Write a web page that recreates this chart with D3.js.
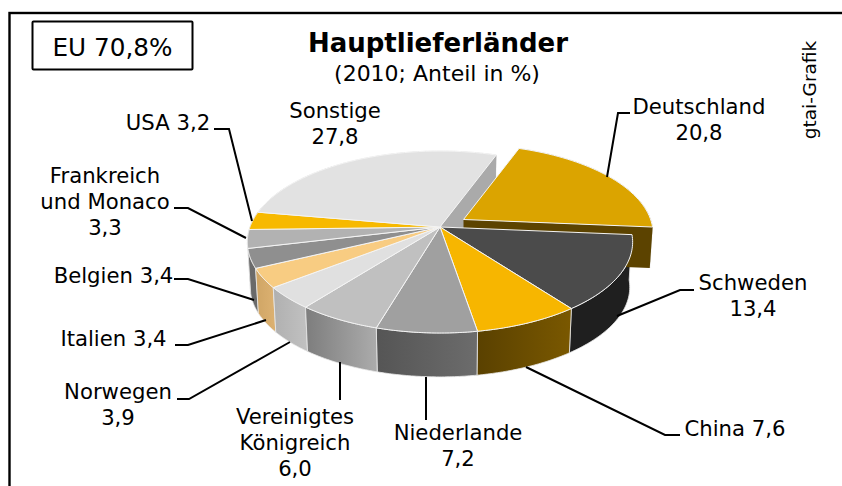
<!DOCTYPE html>
<html><head><meta charset="utf-8">
<script src="https://cdnjs.cloudflare.com/ajax/libs/d3/7.8.5/d3.min.js"></script>
<style>html,body{margin:0;padding:0;background:#fff;overflow:hidden}svg{display:block}text{font-family:"DejaVu Sans",sans-serif;fill:#000}</style>
</head><body><svg id="c" width="842" height="486"></svg>
<script>
const categories=["Deutschland","Schweden","China","Niederlande","Vereinigtes Königreich","Norwegen","Italien","Belgien","Frankreich und Monaco","USA","Sonstige"];
const values=[20.8,13.4,7.6,7.2,6.0,3.9,3.4,3.4,3.3,3.2,27.8];
const topColors=["#dba400","#4b4b4b","#f7b600","#a0a0a0","#c0c0c0","#e0e0e0","#f8cc82","#8f8f8f","#b2b2b2","#f7b900","#e2e2e2"];
const sideFrom=["#5c4300","#1f1f1f","#7a5800","#6c6c6c","#ababab","#c0c0c0","#dbb070","#6a6a6a","#7a7a7a","#7a5800","#aaaaaa"];
const sideTo=["#5c4300","#1f1f1f","#5a4100","#555555","#7d7d7d","#b0b0b0","#cfa565","#6a6a6a","#7a7a7a","#7a5800","#aaaaaa"];
const labelLines=[["Deutschland","20,8"],["Schweden","13,4"],["China 7,6"],["Niederlande","7,2"],["Vereinigtes","Königreich","6,0"],["Norwegen","3,9"],["Italien 3,4"],["Belgien 3,4"],["Frankreich","und Monaco","3,3"],["USA 3,2"],["Sonstige","27,8"]];
const labelPos=[[699,106],[753,282],[735,428],[458,432],[295,416],[118,391],[113.5,338],[113.5,275],[105,175],[168,122],[335,110]];
const leaders=[[[607,177],[618,113],[630,113]],[[617,316],[680,290],[694,290]],[[526,367],[665,435],[680,435]],[[426,377],[426,420]],[[340,362],[340,400]],[[290,342],[189,399],[177,399]],[[266,320],[188,345],[175,345]],[[254,300],[188,279],[174,279]],[[246,238],[188,208],[174,208]],[[252,221],[229,129],[214,129]]];
const title="Hauptlieferländer",subtitle="(2010; Anteil in %)",badge="EU 70,8%",credit="gtai-Grafik";

const svg=d3.select("#c");
// frame (runs past the right and bottom edges of the picture)
svg.append("rect").attr("x",9.5).attr("y",13).attr("width",900).attr("height",600).attr("fill","#fff").attr("stroke","#000").attr("stroke-width",2.4);
svg.append("rect").attr("x",32.5).attr("y",21.5).attr("width",160).attr("height",48).attr("rx",1).attr("fill","#fff").attr("stroke","#000").attr("stroke-width",2);
svg.append("text").attr("x",112.5).attr("y",56).attr("text-anchor","middle").attr("font-size",24.7).text(badge);
svg.append("text").attr("x",438).attr("y",52).attr("text-anchor","middle").attr("font-size",26).attr("font-weight","bold").text(title);
svg.append("text").attr("x",437).attr("y",81).attr("text-anchor","middle").attr("font-size",22).text(subtitle);
svg.append("text").attr("transform","translate(815.5,90) rotate(-90)").attr("text-anchor","middle").attr("font-size",18.5).text(credit);

// perspective pie
const cx=440,cy=227,R=190,H=88.5,P=0.165,depth=45.5,explodedDepth=41,bottomScale=0.985;
const startDeg=20,explodedR=0.985;
const rad=d3.pie().sort(null).value(d=>d).startAngle(startDeg*Math.PI/180).endAngle((startDeg+360)*Math.PI/180)(values);
function proj(a,r,off,drop){ // a clockwise from top, r radius fraction, drop = wall height (0 for the top face)
  const u=r*Math.sin(a),v=-r*Math.cos(a),k=1/(1-P*v),s=drop?bottomScale:1;
  return [cx+off[0]+R*u*k*s, cy+off[1]+H*v*k*s+drop];
}
const line=d3.line().curve(d3.curveLinear);
const explode=[23.5,-7.5];
const offs=values.map((_,i)=>i===0?explode:[0,0]);
const radii=values.map((_,i)=>i===0?explodedR:1);
const drops=values.map((_,i)=>i===0?explodedDepth:depth);
const arcPts=(a0,a1,off,drop,r)=>d3.range(0,41).map(j=>proj(a0+(a1-a0)*j/40,r,off,drop));

const defs=svg.append("defs");
rad.forEach((d,i)=>{
  const xs=arcPts(d.startAngle,d.endAngle,offs[i],0,radii[i]).map(p=>p[0]);
  const g=defs.append("linearGradient").attr("id","g"+i).attr("gradientUnits","userSpaceOnUse")
   .attr("x1",d3.max(xs)).attr("x2",d3.min(xs)).attr("y1",0).attr("y2",0);
  g.append("stop").attr("offset",0).attr("stop-color",sideFrom[i]);
  g.append("stop").attr("offset",1).attr("stop-color",sideTo[i]);
});
const order=[10,9,8,0,1,7,2,6,5,3,4];
const layer=svg.append("g");
// outer walls
order.forEach(i=>{
  const d=rad[i];
  const top=arcPts(d.startAngle,d.endAngle,offs[i],0,radii[i]),bot=arcPts(d.startAngle,d.endAngle,offs[i],drops[i],radii[i]).reverse();
  layer.append("path").attr("d",line(top.concat(bot))+"Z").attr("fill",`url(#g${i})`).attr("stroke","#e8e8e8").attr("stroke-width",0.8);
});
// inner cut wall of Sonstige
{
 const d=rad[10],a=d.endAngle,o=offs[10];
 const tr=proj(a,1,o,0),br=proj(a,1,o,depth),tc=proj(a,0,o,0),bc=proj(a,0,o,depth);
 layer.append("path").attr("d",line([tr,br,bc,tc])+"Z").attr("fill","#aaaaaa");
}
// Deutschland cut wall
{
 const d=rad[0],o=offs[0];
 const ta=proj(d.endAngle,explodedR,o,0),ba=proj(d.endAngle,explodedR,o,explodedDepth),tc=proj(0,0,o,0),bc=proj(0,0,o,explodedDepth);
 layer.append("path").attr("d",line([ta,ba,bc,tc])+"Z").attr("fill",sideFrom[0]);
}
rad.forEach((d,i)=>{
  const pts=[proj(0,0,offs[i],0),...arcPts(d.startAngle,d.endAngle,offs[i],0,radii[i])];
  layer.append("path").attr("d",line(pts)+"Z").attr("fill",topColors[i]).attr("stroke","#f4f4f4").attr("stroke-width",1).attr("stroke-linejoin","round");
});

// leaders + labels
leaders.forEach(l=>svg.append("path").attr("d",line(l)).attr("fill","none").attr("stroke","#000").attr("stroke-width",2));
labelLines.forEach((ls,i)=>{
  const t=svg.append("text").attr("text-anchor","middle").attr("font-size",21.2).attr("x",labelPos[i][0]).attr("y",labelPos[i][1]+8);
  ls.forEach((s,j)=>t.append("tspan").attr("x",labelPos[i][0]).attr("dy",j?26:0).text(s));
});
</script></body></html>
